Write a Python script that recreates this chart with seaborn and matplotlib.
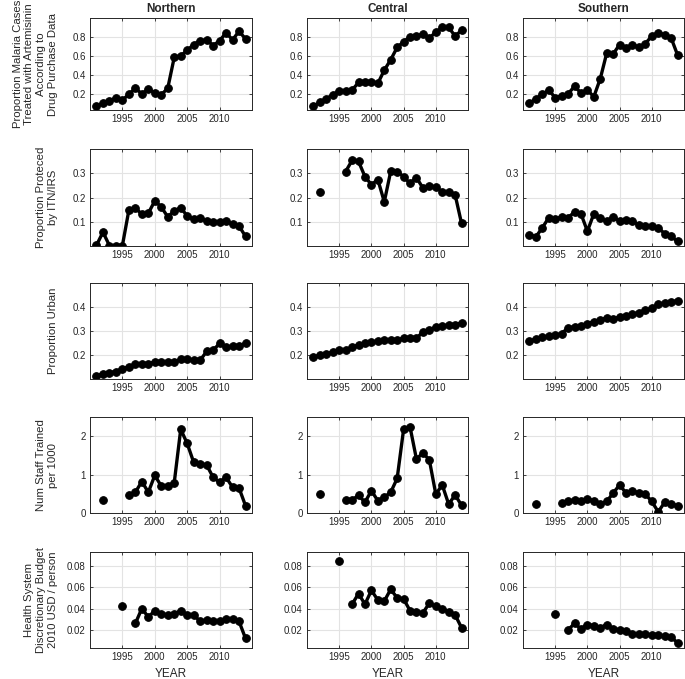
import numpy as np
import pandas as pd
import seaborn as sns
import matplotlib.pyplot as plt

nan = np.nan

# Data
years = list(range(1991, 2015))
regions = ["Northern", "Central", "Southern"]

# Row 1: ACT treated (drug purchase data)
act_northern = [0.07, 0.10, 0.13, 0.155, 0.135, 0.195, 0.26, 0.20, 0.25, 0.21, 0.19, 0.26,
                0.585, 0.60, 0.66, 0.72, 0.76, 0.77, 0.71, 0.76, 0.845, 0.77, 0.86, 0.78]
act_central = [0.07, 0.11, 0.15, 0.19, 0.23, 0.23, 0.24, 0.32, 0.32, 0.33, 0.31, 0.45,
               0.56, 0.69, 0.75, 0.80, 0.81, 0.83, 0.79, 0.85, 0.90, 0.90, 0.81, 0.87]
act_southern = [0.10, 0.15, 0.195, 0.24, 0.16, 0.18, 0.20, 0.28, 0.21, 0.24, 0.17, 0.36,
                0.63, 0.62, 0.72, 0.68, 0.72, 0.69, 0.73, 0.81, 0.845, 0.82, 0.79, 0.61]

# Row 2: ITN/IRS coverage
itn_northern = [0.003, 0.057, 0.002, 0.002, 0.002, 0.148, 0.158, 0.13, 0.135, 0.186, 0.161, 0.12,
                0.145, 0.158, 0.124, 0.11, 0.114, 0.103, 0.10, 0.099, 0.103, 0.089, 0.082, 0.04]
itn_central = [nan, 0.224, nan, nan, nan, 0.307, 0.353, 0.349, 0.286, 0.253, 0.274, 0.182,
               0.308, 0.307, 0.286, 0.258, 0.282, 0.239, 0.249, 0.242, 0.224, 0.221, 0.211, 0.093]
itn_southern = [0.047, 0.038, 0.075, 0.117, 0.11, 0.12, 0.117, 0.14, 0.133, 0.061, 0.133, 0.114,
                0.103, 0.12, 0.103, 0.107, 0.103, 0.086, 0.082, 0.082, 0.075, 0.051, 0.04, 0.019]

# Row 3: proportion urban
urb_northern = [0.113, 0.122, 0.127, 0.131, 0.143, 0.15, 0.162, 0.164, 0.164, 0.17, 0.17, 0.17,
                0.17, 0.183, 0.183, 0.178, 0.178, 0.215, 0.22, 0.248, 0.232, 0.236, 0.236, 0.25]
urb_central = [0.19, 0.199, 0.204, 0.213, 0.22, 0.22, 0.232, 0.242, 0.248, 0.255, 0.257, 0.262,
               0.262, 0.262, 0.27, 0.27, 0.27, 0.296, 0.304, 0.317, 0.321, 0.325, 0.325, 0.335]
urb_southern = [0.257, 0.267, 0.275, 0.278, 0.283, 0.289, 0.314, 0.317, 0.321, 0.331, 0.339, 0.345,
                0.356, 0.349, 0.359, 0.363, 0.37, 0.377, 0.387, 0.394, 0.412, 0.415, 0.42, 0.427]

# Row 4: staff trained per 1000
stf_northern = [nan, 0.34, nan, nan, nan, 0.46, 0.54, 0.82, 0.54, 0.98, 0.70, 0.71,
                0.79, 2.18, 1.81, 1.32, 1.28, 1.25, 0.93, 0.80, 0.93, 0.67, 0.65, 0.19]
stf_central = [nan, 0.49, nan, nan, nan, 0.34, 0.34, 0.46, 0.28, 0.58, 0.32, 0.41,
               0.54, 0.90, 2.18, 2.24, 1.40, 1.57, 1.38, 0.49, 0.73, 0.23, 0.47, 0.20]
stf_southern = [nan, 0.23, nan, nan, nan, 0.26, 0.30, 0.34, 0.30, 0.36, 0.32, 0.23,
                0.30, 0.52, 0.73, 0.52, 0.56, 0.53, 0.49, 0.30, 0.03, 0.28, 0.23, 0.19]

# Row 5: discretionary budget
bud_northern = [nan, nan, nan, nan, 0.042, nan, 0.026, 0.040, 0.032, 0.038, 0.035, 0.034,
                0.035, 0.038, 0.034, 0.034, 0.028, 0.029, 0.028, 0.028, 0.030, 0.030, 0.028, 0.012]
bud_central = [nan, nan, nan, nan, 0.085, nan, 0.044, 0.054, 0.044, 0.057, 0.048, 0.047,
               0.058, 0.050, 0.049, 0.038, 0.037, 0.036, 0.045, 0.042, 0.040, 0.037, 0.034, 0.022]
bud_southern = [nan, nan, nan, nan, 0.035, nan, 0.020, 0.026, 0.021, 0.025, 0.024, 0.022,
                0.025, 0.021, 0.020, 0.019, 0.016, 0.016, 0.016, 0.015, 0.015, 0.014, 0.013, 0.008]

ylabels = [
    "Proportion Malaria Cases\nTreated with Artemisinin\nAccording to\nDrug Purchase Data",
    "Proportion Proteced\nby ITN/IRS",
    "Proportion Urban",
    "Num Staff Trained\nper 1000",
    "Health System\nDiscretionary Budget\n2010 USD / person",
]
row_series = [
    [act_northern, act_central, act_southern],
    [itn_northern, itn_central, itn_southern],
    [urb_northern, urb_central, urb_southern],
    [stf_northern, stf_central, stf_southern],
    [bud_northern, bud_central, bud_southern],
]
row_ylim = [(0.03, 1.0), (0, 0.4), (0.1, 0.5), (0, 2.5), (0.003, 0.093)]
row_yticks = [[0.2, 0.4, 0.6, 0.8], [0.1, 0.2, 0.3], [0.2, 0.3, 0.4], [0, 1, 2],
              [0.02, 0.04, 0.06, 0.08]]

# long table; a new segment starts after each gap so lines break at missing years
records = []
for r, series in enumerate(row_series):
    for region, vals in zip(regions, series):
        seg = 0
        for yr, v in zip(years, vals):
            if np.isnan(v):
                seg += 1
                continue
            records.append({"row": r, "region": region, "year": yr, "value": v, "seg": seg})
df = pd.DataFrame(records)

sns.set_style("ticks")
plt.rcParams["font.family"] = ["Liberation Sans", "DejaVu Sans"]
plt.rcParams["xtick.direction"] = "in"
plt.rcParams["ytick.direction"] = "in"

W, H = 685, 679
fig = plt.figure(figsize=(W / 100, H / 100), dpi=100)

cols_px = [(90, 252), (307, 468), (523, 684)]
rows_px = [(18, 110), (149, 246), (283, 379), (417, 513), (552, 648)]

for r, (top, bot) in enumerate(rows_px):
    for c, (left, right) in enumerate(cols_px):
        ax = fig.add_axes([left / W, 1 - bot / H, (right - left) / W, (bot - top) / H])
        sub = df[(df["row"] == r) & (df["region"] == regions[c])]
        sns.lineplot(data=sub, x="year", y="value", units="seg", estimator=None,
                     color="black", linewidth=2.4, marker="o", markersize=5.5,
                     markeredgecolor="black", legend=False, ax=ax)
        ax.set_xlim(1990, 2015)
        ax.set_ylim(*row_ylim[r])
        ax.set_xticks([1995, 2000, 2005, 2010])
        ax.set_yticks(row_yticks[r])
        ax.grid(True, color="#e3e3e3", linewidth=0.8)
        ax.set_axisbelow(True)
        ax.tick_params(labelsize=7, length=2.5, width=0.6, top=True, right=True,
                       colors="#262626", pad=3)
        for s in ax.spines.values():
            s.set_color("#262626")
            s.set_linewidth(0.7)
        ax.set_xlabel("YEAR" if r == 4 else "", fontsize=8.5)
        if c == 0:
            ax.set_ylabel(ylabels[r], fontsize=8.2)
            ax.yaxis.set_label_coords(-0.2, 0.5)
        else:
            ax.set_ylabel("")
        if r == 0:
            ax.set_title(regions[c], fontsize=8.5, fontweight="bold", pad=4)

fig.savefig("out.png", dpi=100)
